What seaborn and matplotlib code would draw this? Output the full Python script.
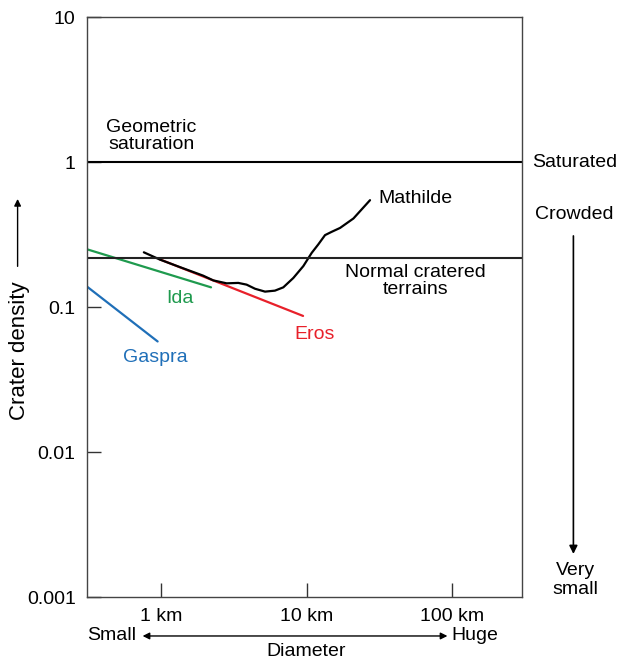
import numpy as np
import pandas as pd
import matplotlib
matplotlib.use("Agg")
import matplotlib.pyplot as plt
import seaborn as sns

# Data (diameter in km, crater density)
gaspra_d = [0.31, 0.95]
gaspra_n = [0.139, 0.058]

ida_d = [0.31, 2.21]
ida_n = [0.251, 0.137]

eros_d = [0.98, 9.47]
eros_n = [0.214, 0.087]

mathilde_d = [0.764, 0.984, 1.35, 1.95, 2.29, 2.83, 3.40, 3.88, 4.43, 5.19, 6.07,
              6.93, 8.12, 9.51, 10.86, 12.05, 13.4, 14.9, 17.0, 21.0, 27.3]
mathilde_n = [0.239, 0.213, 0.189, 0.165, 0.153, 0.146, 0.147, 0.143, 0.134, 0.128,
              0.130, 0.137, 0.159, 0.192, 0.237, 0.271, 0.314, 0.331, 0.352, 0.409, 0.547]

saturation = 1.0
normal_terrain = 0.218

x_ticks = [1, 10, 100]
x_labels = ["1 km", "10 km", "100 km"]
y_ticks = [0.001, 0.01, 0.1, 1, 10]
y_labels = ["0.001", "0.01", "0.1", "1", "10"]

sns.set_style("white")
plt.rcParams['font.family'] = ['Liberation Sans', 'DejaVu Sans']
plt.rcParams['text.color'] = "black"
plt.rcParams['xtick.color'] = "black"
plt.rcParams['ytick.color'] = "black"

fig = plt.figure(figsize=(6.2, 6.62), dpi=100)
ax = fig.add_axes([0.140, 0.098, 0.702, 0.876])

green = "#1f9a4e"
blue = "#1f6fb8"
red = "#e8202a"

sns.lineplot(x=gaspra_d, y=gaspra_n, color=blue, lw=1.6, ax=ax, sort=False)
sns.lineplot(x=ida_d, y=ida_n, color=green, lw=1.6, ax=ax, sort=False)
sns.lineplot(x=eros_d, y=eros_n, color=red, lw=1.6, ax=ax, sort=False)
sns.lineplot(x=mathilde_d, y=mathilde_n, color="black", lw=1.6, ax=ax, sort=False)
ax.axhline(saturation, color="black", lw=1.5)
ax.axhline(normal_terrain, color="#222222", lw=1.5)

ax.set_xscale("log")
ax.set_yscale("log")
ax.set_xlim(0.31, 302)
ax.set_ylim(0.001, 10)
ax.set_xticks(x_ticks)
ax.set_xticklabels(x_labels)
ax.set_yticks(y_ticks)
ax.set_yticklabels(y_labels)
ax.minorticks_off()
ax.tick_params(bottom=True, left=True, direction="in", length=10, width=1,
               color="#333333", labelsize=14, pad=8)
for s in ax.spines.values():
    s.set_color("#444444")
    s.set_linewidth(1)

fs = 14
# labels inside the plot
ax.text(0.86, 1.51, "Geometric\nsaturation", ha="center", va="center", fontsize=fs, linespacing=1.0)
ax.text(31, 0.565, "Mathilde", ha="left", va="center", fontsize=fs)
ax.text(56, 0.151, "Normal cratered\nterrains", ha="center", va="center", fontsize=fs, linespacing=1.0)
ax.text(1.35, 0.115, "Ida", ha="center", va="center", fontsize=fs, color=green)
ax.text(11.4, 0.065, "Eros", ha="center", va="center", fontsize=fs, color=red)
ax.text(0.92, 0.0453, "Gaspra", ha="center", va="center", fontsize=fs, color=blue)

# right side scale
ty = ax.get_yaxis_transform()
ax.text(1.122, 1.0, "Saturated", transform=ty, ha="center", va="center", fontsize=fs, clip_on=False)
ax.text(1.12, 0.438, "Crowded", transform=ty, ha="center", va="center", fontsize=fs, clip_on=False)
ax.annotate("", xy=(1.118, 0.0019), xytext=(1.118, 0.324), xycoords=ty, textcoords=ty,
            arrowprops=dict(arrowstyle="-|>", color="black", lw=1.2, mutation_scale=12),
            annotation_clip=False)
ax.text(1.122, 0.00131, "Very\nsmall", transform=ty, ha="center", va="center", fontsize=fs,
        linespacing=1.1, clip_on=False)

# left axis label
ax.text(-0.155, 0.05, "Crater density", transform=ty, ha="center", va="center", rotation=90,
        fontsize=16, clip_on=False)
ax.annotate("", xy=(-0.159, 0.583), xytext=(-0.159, 0.183), xycoords=ty, textcoords=ty,
            arrowprops=dict(arrowstyle="-|>", color="black", lw=1.0, mutation_scale=10),
            annotation_clip=False)

# bottom axis label
tx = ax.get_xaxis_transform()
ax.text(0.46, -0.067, "Small", transform=tx, ha="center", va="center", fontsize=fs, clip_on=False)
ax.text(144, -0.067, "Huge", transform=tx, ha="center", va="center", fontsize=fs, clip_on=False)
ax.annotate("", xy=(0.717, -0.067), xytext=(97, -0.067), xycoords=tx, textcoords=tx,
            arrowprops=dict(arrowstyle="<|-|>", color="black", lw=1.0, mutation_scale=10),
            annotation_clip=False)
ax.text(10, -0.094, "Diameter", transform=tx, ha="center", va="center", fontsize=fs, clip_on=False)

fig.savefig("out.png", dpi=100)
